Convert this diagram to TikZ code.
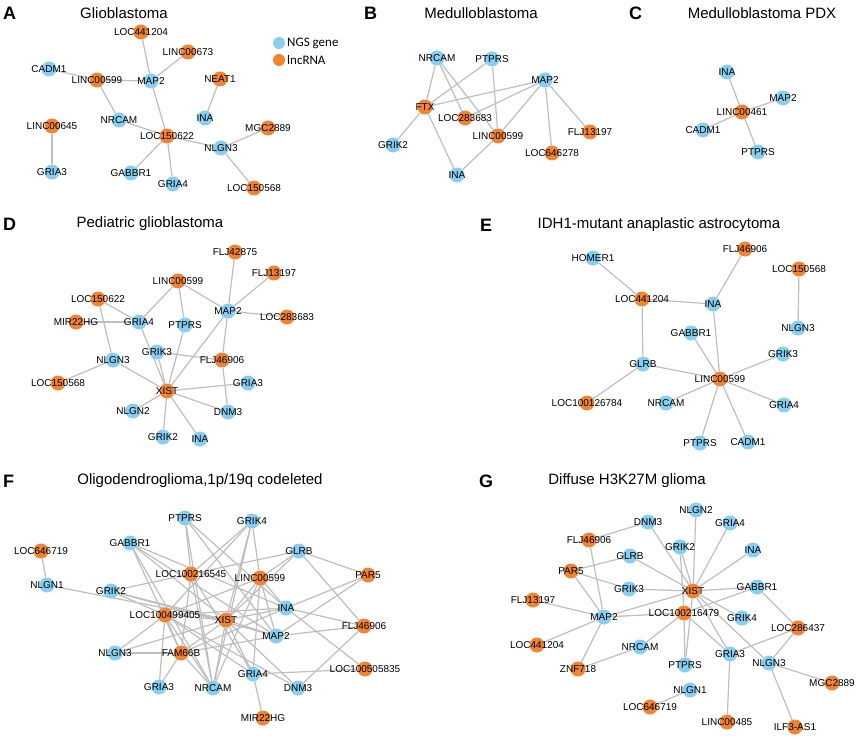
\documentclass[tikz,border=0pt]{standalone}
\usepackage{fontspec}
\setmainfont{Liberation Sans}
\newfontfamily\legfont{Carlito}
\definecolor{ngs}{RGB}{135,206,240}
\definecolor{lnc}{RGB}{242,132,46}
\definecolor{edgec}{RGB}{190,190,190}
\pgfdeclarelayer{edgelayer}
\pgfsetlayers{edgelayer,main}
\tikzset{
 nd/.style={circle,inner sep=0pt,minimum size=15pt,draw=none},
 gn/.style={nd,fill=ngs},
 ln/.style={nd,fill=lnc},
 lbl/.style={font=\fontsize{10}{12}\selectfont,text=black,inner sep=0pt},
 ttl/.style={font=\fontsize{15}{18}\selectfont,inner sep=0pt},
 plet/.style={font=\bfseries\fontsize{18}{20}\selectfont,anchor=west,inner sep=0pt},
 ed/.style={draw=edgec,line width=1.2pt},
 legdot/.style={circle,inner sep=0pt,minimum size=12pt,draw=none},
 legtxt/.style={font=\legfont\fontsize{13}{15}\selectfont,anchor=west,inner sep=0pt},
}
\newcommand\gnd[4]{\node[gn,label={[lbl]center:#4}] (#1) at (#2,#3) {};}
\newcommand\lnd[4]{\node[ln,label={[lbl]center:#4}] (#1) at (#2,#3) {};}
\newcommand\edges[1]{\begin{pgfonlayer}{edgelayer}\foreach \a/\b in {#1} \draw[ed] (\a) -- (\b);\end{pgfonlayer}}
\begin{document}
\begin{tikzpicture}[x=1pt,y=-1pt]
\useasboundingbox (0,0) rectangle (858,738);
% ---------- titles
\node[plet] (tA) at (3,13) {A};
\node[ttl] (tAt) at (124,13) {Glioblastoma};
\node[plet] (tB) at (364,13) {B};
\node[ttl] (tBt) at (481,13) {Medulloblastoma};
\node[plet] (tC) at (629,13) {C};
\node[ttl] (tCt) at (762,13) {Medulloblastoma PDX};
\node[plet] (tD) at (3,224) {D};
\node[ttl] (tDt) at (150,224) {Pediatric glioblastoma};
\node[plet] (tE) at (480,225) {E};
\node[ttl] (tEt) at (659,225) {IDH1-mutant anaplastic astrocytoma};
\node[plet] (tF) at (3,481) {F};
\node[ttl] (tFt) at (200,481) {Oligodendroglioma,1p/19q codeleted};
\node[plet] (tG) at (479,481) {G};
\node[ttl] (tGt) at (627,481) {Diffuse H3K27M glioma};
% ---------- legend
\node[legdot,fill=ngs] (lg1) at (279,43) {};
\node[legtxt] (lg1t) at (287,43) {NGS gene};
\node[legdot,fill=lnc] (lg2) at (279,60) {};
\node[legtxt] (lg2t) at (287,60) {lncRNA};
% ---------- A
\gnd{aCADM1}{49}{69}{CADM1}
\lnd{aLOC441204}{141}{32}{LOC441204}
\lnd{aLINC00673}{188}{52}{LINC00673}
\lnd{aLINC00599}{97}{80}{LINC00599}
\gnd{aMAP2}{151}{81}{MAP2}
\lnd{aNEAT1}{220}{79}{NEAT1}
\gnd{aINA}{205}{118}{INA}
\gnd{aNRCAM}{119}{120}{NRCAM}
\lnd{aLINC00645}{52}{126}{LINC00645}
\lnd{aLOC150622}{167}{136}{LOC150622}
\lnd{aMGC2889}{268}{128}{MGC2889}
\gnd{aNLGN3}{221}{148}{NLGN3}
\gnd{aGRIA3}{52}{172}{GRIA3}
\gnd{aGABBR1}{131}{173}{GABBR1}
\gnd{aGRIA4}{173}{184}{GRIA4}
\lnd{aLOC150568}{254}{188}{LOC150568}
\edges{aLOC441204/aMAP2,aLINC00673/aMAP2,aCADM1/aLINC00599,aLINC00599/aMAP2,aLINC00599/aNRCAM,aMAP2/aLOC150622,aNEAT1/aINA,aNRCAM/aLOC150622,aLINC00645/aGRIA3,aLOC150622/aGABBR1,aLOC150622/aGRIA4,aLOC150622/aNLGN3,aNLGN3/aMGC2889,aNLGN3/aLOC150568}
% ---------- B
\gnd{bNRCAM}{437}{58}{NRCAM}
\gnd{bPTPRS}{492}{59}{PTPRS}
\gnd{bMAP2}{545}{80}{MAP2}
\lnd{bFTX}{425}{107}{FTX}
\lnd{bLOC283683}{465}{118}{LOC283683}
\lnd{bLINC00599}{498}{136}{LINC00599}
\gnd{bGRIK2}{393}{145}{GRIK2}
\lnd{bLOC646278}{552}{153}{LOC646278}
\gnd{bINA}{457}{175}{INA}
\lnd{bFLJ13197}{590}{132}{FLJ13197}
\edges{bNRCAM/bFTX,bNRCAM/bLOC283683,bNRCAM/bLINC00599,bPTPRS/bFTX,bPTPRS/bLINC00599,bMAP2/bFTX,bMAP2/bLOC283683,bMAP2/bLINC00599,bMAP2/bLOC646278,bMAP2/bFLJ13197,bFTX/bGRIK2,bFTX/bINA,bLINC00599/bINA}
% ---------- C
\gnd{cINA}{727}{72}{INA}
\gnd{cMAP2}{783}{98}{MAP2}
\lnd{cLINC00461}{742}{112}{LINC00461}
\gnd{cCADM1}{703}{130}{CADM1}
\gnd{cPTPRS}{758}{152}{PTPRS}
\edges{cINA/cLINC00461,cMAP2/cLINC00461,cCADM1/cLINC00461,cPTPRS/cLINC00461}
% ---------- D
\lnd{dFLJ42875}{235}{252}{FLJ42875}
\lnd{dFLJ13197}{274}{273}{FLJ13197}
\lnd{dLINC00599}{178}{281}{LINC00599}
\lnd{dLOC150622}{98}{299}{LOC150622}
\gnd{dMAP2}{228}{311}{MAP2}
\lnd{dLOC283683}{287}{317}{LOC283683}
\lnd{dMIR22HG}{76}{322}{MIR22HG}
\gnd{dGRIA4}{139}{322}{GRIA4}
\gnd{dPTPRS}{185}{325}{PTPRS}
\gnd{dGRIK3}{157}{352}{GRIK3}
\gnd{dNLGN3}{113}{360}{NLGN3}
\lnd{dFLJ46906}{222}{360}{FLJ46906}
\lnd{dLOC150568}{58}{383}{LOC150568}
\lnd{dXIST}{167}{391}{XIST}
\gnd{dGRIA3}{248}{383}{GRIA3}
\gnd{dNLGN2}{133}{411}{NLGN2}
\gnd{dDNM3}{228}{412}{DNM3}
\gnd{dGRIK2}{163}{437}{GRIK2}
\gnd{dINA}{200}{439}{INA}
\edges{dFLJ42875/dMAP2,dFLJ13197/dMAP2,dLINC00599/dMAP2,dLINC00599/dGRIA4,dLINC00599/dPTPRS,dLOC150622/dGRIA4,dLOC150622/dNLGN3,dMIR22HG/dGRIA4,dMAP2/dLOC283683,dMAP2/dXIST,dMAP2/dFLJ46906,dGRIA4/dXIST,dPTPRS/dXIST,dGRIK3/dXIST,dGRIK3/dFLJ46906,dNLGN3/dLOC150568,dNLGN3/dXIST,dFLJ46906/dDNM3,dXIST/dGRIA3,dXIST/dNLGN2,dXIST/dDNM3,dXIST/dGRIK2,dXIST/dINA}
% ---------- E
\gnd{eHOMER1}{593}{258}{HOMER1}
\lnd{eFLJ46906}{745}{249}{FLJ46906}
\lnd{eLOC150568}{799}{269}{LOC150568}
\lnd{eLOC441204}{642}{299}{LOC441204}
\gnd{eINA}{713}{304}{INA}
\gnd{eNLGN3}{798}{328}{NLGN3}
\gnd{eGABBR1}{691}{333}{GABBR1}
\gnd{eGRIK3}{783}{354}{GRIK3}
\gnd{eGLRB}{643}{364}{GLRB}
\lnd{eLINC00599}{720}{379}{LINC00599}
\lnd{eLOC100126784}{587}{403}{LOC100126784}
\gnd{eNRCAM}{666}{403}{NRCAM}
\gnd{eGRIA4}{784}{405}{GRIA4}
\gnd{ePTPRS}{700}{443}{PTPRS}
\gnd{eCADM1}{748}{442}{CADM1}
\edges{eHOMER1/eLOC441204,eFLJ46906/eINA,eLOC150568/eNLGN3,eLOC441204/eINA,eLOC441204/eGLRB,eINA/eLINC00599,eGABBR1/eLINC00599,eGRIK3/eLINC00599,eGLRB/eLINC00599,eGLRB/eLOC100126784,eLINC00599/eNRCAM,eLINC00599/eGRIA4,eLINC00599/ePTPRS,eLINC00599/eCADM1}
% ---------- F
\gnd{fPTPRS}{185}{518}{PTPRS}
\gnd{fGRIK4}{252}{521}{GRIK4}
\gnd{fGABBR1}{130}{543}{GABBR1}
\lnd{fLOC646719}{41}{551}{LOC646719}
\gnd{fGLRB}{299}{551}{GLRB}
\lnd{fLOC100216545}{191}{574}{LOC100216545}
\lnd{fLINC00599}{260}{578}{LINC00599}
\lnd{fPAR5}{368}{575}{PAR5}
\gnd{fNLGN1}{47}{585}{NLGN1}
\gnd{fGRIK2}{111}{591}{GRIK2}
\gnd{fINA}{286}{608}{INA}
\lnd{fLOC100499405}{165}{615}{LOC100499405}
\lnd{fXIST}{226}{620}{XIST}
\lnd{fFLJ46906}{364}{626}{FLJ46906}
\gnd{fMAP2}{276}{636}{MAP2}
\gnd{fNLGN3}{115}{653}{NLGN3}
\lnd{fFAM66B}{181}{653}{FAM66B}
\lnd{fLOC100505835}{365}{669}{LOC100505835}
\gnd{fGRIA4}{253}{674}{GRIA4}
\gnd{fGRIA3}{159}{687}{GRIA3}
\gnd{fNRCAM}{213}{688}{NRCAM}
\gnd{fDNM3}{298}{688}{DNM3}
\lnd{fMIR22HG}{263}{718}{MIR22HG}
\edges{fLOC646719/fNLGN1,fNLGN1/fXIST,fPTPRS/fNRCAM,fPTPRS/fINA,fPTPRS/fMAP2,fPTPRS/fLOC100216545,fGRIK4/fXIST,fGRIK4/fLINC00599,fGRIK4/fLOC100216545,fGRIK4/fNRCAM,fGRIK4/fLOC100499405,fGABBR1/fINA,fGABBR1/fMAP2,fGABBR1/fFAM66B,fGABBR1/fNRCAM,fGABBR1/fXIST,fGLRB/fLOC100216545,fGLRB/fLINC00599,fGLRB/fPAR5,fGLRB/fFLJ46906,fGLRB/fXIST,fLOC100216545/fGRIK2,fLOC100216545/fNRCAM,fLOC100216545/fGRIA4,fLOC100216545/fFAM66B,fLINC00599/fXIST,fLINC00599/fMAP2,fLINC00599/fGRIA4,fLINC00599/fNRCAM,fLINC00599/fLOC100499405,fLINC00599/fINA,fPAR5/fINA,fPAR5/fMAP2,fGRIK2/fXIST,fGRIK2/fMAP2,fGRIK2/fLOC100499405,fINA/fXIST,fINA/fFLJ46906,fINA/fLOC100505835,fINA/fLOC100499405,fINA/fFAM66B,fLOC100499405/fXIST,fLOC100499405/fNLGN3,fLOC100499405/fGRIA3,fLOC100499405/fFAM66B,fLOC100499405/fNRCAM,fLOC100499405/fGRIA4,fLOC100499405/fDNM3,fXIST/fMAP2,fXIST/fFAM66B,fXIST/fGRIA4,fXIST/fNRCAM,fXIST/fDNM3,fXIST/fNLGN3,fMAP2/fFLJ46906,fMAP2/fFAM66B,fFLJ46906/fDNM3,fGRIA4/fLOC100505835,fGRIA4/fMIR22HG,fNLGN3/fFAM66B,fFAM66B/fGRIA3,fFAM66B/fNRCAM}
% ---------- G
\gnd{gDNM3}{648}{522}{DNM3}
\gnd{gNLGN2}{696}{510}{NLGN2}
\gnd{gGRIA4}{730}{523}{GRIA4}
\lnd{gFLJ46906}{589}{540}{FLJ46906}
\gnd{gINA}{753}{550}{INA}
\gnd{gGRIK2}{680}{547}{GRIK2}
\gnd{gGLRB}{630}{556}{GLRB}
\lnd{gPAR5}{571}{571}{PAR5}
\gnd{gGRIK3}{629}{589}{GRIK3}
\lnd{gXIST}{693}{591}{XIST}
\gnd{gGABBR1}{757}{587}{GABBR1}
\lnd{gFLJ13197}{533}{600}{FLJ13197}
\lnd{gLOC100216479}{684}{613}{LOC100216479}
\gnd{gMAP2}{604}{617}{MAP2}
\gnd{gGRIK4}{742}{618}{GRIK4}
\lnd{gLOC286437}{798}{628}{LOC286437}
\lnd{gLOC441204}{537}{645}{LOC441204}
\gnd{gNRCAM}{640}{647}{NRCAM}
\gnd{gGRIA3}{730}{654}{GRIA3}
\gnd{gNLGN3}{769}{663}{NLGN3}
\gnd{gPTPRS}{685}{665}{PTPRS}
\lnd{gZNF718}{578}{669}{ZNF718}
\lnd{gMGC2889}{832}{683}{MGC2889}
\gnd{gNLGN1}{690}{690}{NLGN1}
\lnd{gLOC646719}{650}{707}{LOC646719}
\lnd{gLINC00485}{727}{722}{LINC00485}
\lnd{gILF3}{795}{727}{ILF3-AS1}
\edges{gDNM3/gFLJ46906,gDNM3/gXIST,gNLGN2/gXIST,gGRIA4/gXIST,gINA/gXIST,gGRIK2/gXIST,gGRIK2/gLOC100216479,gGLRB/gPAR5,gGLRB/gXIST,gPAR5/gGRIK3,gPAR5/gMAP2,gGRIK3/gXIST,gFLJ46906/gMAP2,gMAP2/gXIST,gMAP2/gLOC100216479,gMAP2/gFLJ13197,gMAP2/gLOC441204,gMAP2/gZNF718,gXIST/gGABBR1,gGABBR1/gLOC100216479,gXIST/gGRIK4,gXIST/gGRIA3,gXIST/gNLGN3,gXIST/gPTPRS,gLOC100216479/gPTPRS,gLOC100216479/gNRCAM,gNRCAM/gZNF718,gLOC100216479/gGRIA3,gGABBR1/gLOC286437,gLOC286437/gGRIA3,gLOC286437/gNLGN3,gNLGN3/gMGC2889,gNLGN3/gILF3,gGRIA3/gLINC00485,gNLGN1/gLOC646719}
\end{tikzpicture}
\end{document}
